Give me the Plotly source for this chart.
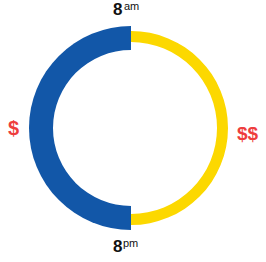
import plotly.graph_objects as go

# Data
segments = ["$", "$$"]
seg_theta = [270, 90]          # left half, right half (clockwise from top)
seg_width = [180, 180]
seg_base = [78, 86]            # inner radius
seg_thick = [25, 11]           # ring thickness
seg_colors = ["#1257a8", "#fcd800"]
time_numbers = ["8", "8"]
time_suffixes = ["am", "pm"]
price_labels = ["$", "$$"]

W, H = 266, 262
ML, MR, MT, MB = 29, 33, 26, 32

fig = go.Figure()
for name, th, w, b, r, c in zip(segments, seg_theta, seg_width, seg_base, seg_thick, seg_colors):
    fig.add_trace(go.Barpolar(
        r=[r], theta=[th], width=[w], base=[b], name=name,
        marker=dict(color=c, line=dict(width=0)), hoverinfo="skip"
    ))

fig.update_layout(
    width=W, height=H,
    margin=dict(l=ML, r=MR, t=MT, b=MB, pad=0),
    paper_bgcolor="white",
    showlegend=False,
    polar=dict(
        bgcolor="rgba(0,0,0,0)",
        domain=dict(x=[0, 1], y=[0, 1]),
        radialaxis=dict(visible=False, range=[0, 102]),
        angularaxis=dict(visible=False, direction="clockwise", rotation=90),
        bargap=0,
    ),
)

font_main = "Liberation Sans Narrow, Liberation Sans, Arial"
annos = [
    dict(text="<b>" + time_numbers[0] + "</b>", x=117, y=9, color="#111111", size=17),
    dict(text=time_suffixes[0], x=131, y=6, color="#111111", size=11),
    dict(text="<b>" + time_numbers[1] + "</b>", x=117, y=246, color="#111111", size=17),
    dict(text=time_suffixes[1], x=130, y=243, color="#111111", size=11),
    dict(text="<b>" + price_labels[0] + "</b>", x=13, y=128, color="#ee3d3d", size=20),
    dict(text="<b>" + price_labels[1] + "</b>", x=248, y=133, color="#ee3d3d", size=19),
]
pw, ph = W - ML - MR, H - MT - MB
for a in annos:
    fig.add_annotation(
        x=(a["x"] - ML) / pw, y=1 - (a["y"] - MT) / ph,
        xref="paper", yref="paper", xanchor="center", yanchor="middle",
        text=a["text"], showarrow=False,
        font=dict(family=font_main, size=a["size"], color=a["color"]),
    )

fig.write_html(
    "out.html",
    config={"displayModeBar": False},
    post_script="document.body.style.margin='0px';document.body.style.overflow='hidden';",
)
